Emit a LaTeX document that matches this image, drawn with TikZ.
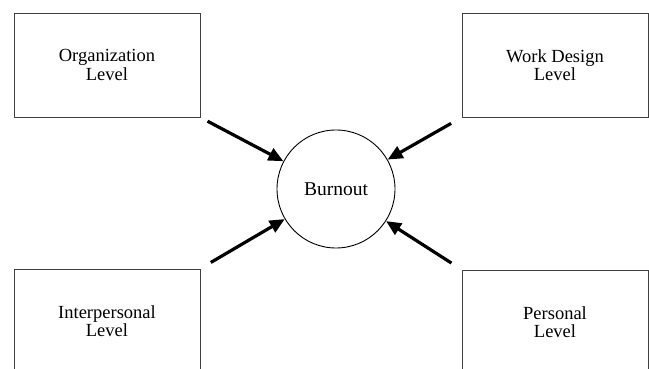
\documentclass[tikz,border=0pt]{standalone}
\usepackage{fontspec}
\setmainfont{Liberation Serif}
\usepackage{tikz}
\usetikzlibrary{arrows.meta, positioning}

\begin{document}
\begin{tikzpicture}[x=1pt, y=-1pt,
      level/.style={draw=black!75, line width=0.9pt, align=center,
                    minimum width=186pt, minimum height=104pt,
                    font=\fontsize{18.5}{18.5}\selectfont},
      core/.style={draw, circle, line width=0.9pt, minimum size=118pt,
                   font=\fontsize{19.5}{19.5}\selectfont},
      push/.style={line width=3.2pt,
                   -{Triangle[length=15pt, width=13pt]}}]
    \clip (0,0) rectangle (649,369);
    \node[core] (burn) at (336,189) {Burnout};
    \node[level] (org) at (107,65) {Organization\\Level};
    \node[level] (work) at (555,65) {Work Design\\Level};
    \node[level] (inter) at (107,321) {Interpersonal\\Level};
    \node[level] (pers) at (555,322) {Personal\\Level};
    \draw[push, shorten <=8pt] (org.south east) -- (burn);
    \draw[push, shorten <=12pt] (work.south west) -- (burn);
    \draw[push, shorten <=12pt] (inter.north east) -- (burn);
    \draw[push, shorten <=12pt] (pers.north west) -- (burn);
  \end{tikzpicture}
\end{document}
